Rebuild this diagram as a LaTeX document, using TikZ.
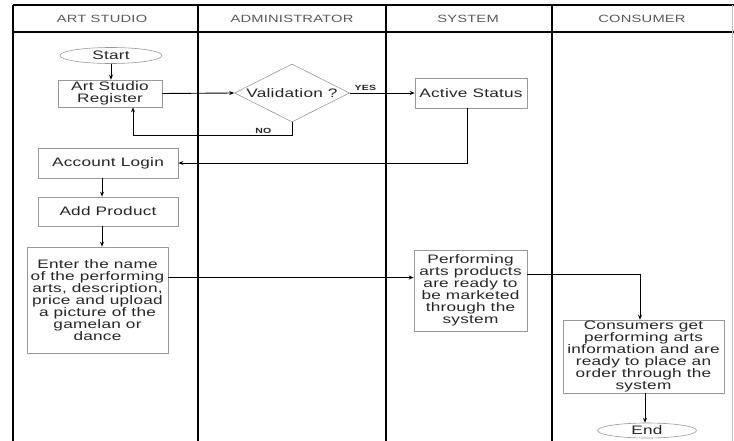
\documentclass[tikz,border=0pt]{standalone}
\usepackage{fontspec}
\setmainfont{Liberation Sans}[FakeStretch=1.4, LetterSpace=2]
\usetikzlibrary{shapes.geometric,arrows.meta}
\begin{document}
\begin{tikzpicture}[x=1pt,y=-1pt,
  lane/.style={line width=1.5pt,black},
  head/.style={font=\fontsize{10.5}{12}\selectfont, text=black!65},
  box/.style={draw=black!40, line width=0.6pt, fill=white, text=black!85,
    inner sep=0pt, align=center, font=\fontsize{12.3}{12}\selectfont},
  term/.style={box, ellipse},
  decision/.style={box, diamond, shape aspect=2},
  arr/.style={-{Stealth[length=5pt,width=4pt]}, line width=0.9pt},
  tag/.style={font=\bfseries\fontsize{7.5}{8}\selectfont, text=black!85, inner sep=1pt}]
\useasboundingbox (0,0) rectangle (734,441);

% swimlane frame
\draw[lane] (13,5) -- (734,5);
\draw[lane] (13,32) -- (734,32);
\foreach \x in {13,198,386,552} \draw[lane] (\x,5) -- (\x,441);
\draw[black!25, line width=0.6pt] (732,5) -- (732,441);

% lane titles
\node[head] (hArt)  at (102,18.5) {ART STUDIO};
\node[head] (hAdm)  at (292,18.5) {ADMINISTRATOR};
\node[head] (hSys)  at (468,18.5) {SYSTEM};
\node[head] (hCon)  at (642,18.5) {CONSUMER};

% flow elements
\node[term, minimum width=102pt, minimum height=16pt] (start) at (111,55.5) {Start};
\node[box, minimum width=104pt, minimum height=27pt] (reg) at (110,93.5) {Art Studio\\Register};
\node[decision, minimum width=115pt, minimum height=58pt] (val) at (292,93) {Validation ?};
\node[box, minimum width=112pt, minimum height=30pt] (act) at (471,93) {Active Status};
\node[box, minimum width=140pt, minimum height=30pt] (login) at (108,163) {Account Login};
\node[box, minimum width=140pt, minimum height=29pt] (add) at (108,211.5) {Add Product};
\node[box, minimum width=141pt, minimum height=106pt] (enter) at (97.5,300)
  {Enter the name\\of the performing\\arts, description,\\price and upload\\a picture of the\\gamelan or\\dance};
\node[box, minimum width=113pt, minimum height=81pt] (perf) at (470.5,290.5)
  {Performing\\arts products\\are ready to\\be marketed\\through the\\system};
\node[box, minimum width=161pt, minimum height=73pt] (cons) at (643.5,356.5)
  {Consumers get\\performing arts\\information and are\\ready to place an\\order through the\\system};
\node[term, minimum width=99pt, minimum height=15pt] (end) at (647,430.5) {End};

% connectors
\draw[arr] (start.south) -- (start.south |- reg.north);
\draw[arr] (reg.east) -- (val.west);
\draw[arr] (val.east) -- node[tag, pos=0.24, above=1pt] {YES} (act.west);
\draw[arr] (val.south) |- node[tag, pos=0.59, above] {NO}
  ([xshift=23pt,yshift=-28pt]reg.south) -- ([xshift=23pt]reg.south);
\draw[arr] ([xshift=-4pt]act.south) |- (login.east);
\draw[arr] ([xshift=-6pt]login.south) -- ([xshift=-6pt]add.north);
\draw[arr] ([xshift=-6pt]add.south) -- ([xshift=-6pt]add.south |- enter.north);
\draw[arr] ([yshift=13pt]perf.west -| enter.east) -- ([yshift=13pt]perf.west);
\draw[arr] ([yshift=16pt]perf.east) -| ([xshift=-3.5pt]cons.north);
\draw[arr] ([xshift=1.5pt]cons.south) -- ([xshift=1.5pt]cons.south |- end.north);
\end{tikzpicture}
\end{document}
